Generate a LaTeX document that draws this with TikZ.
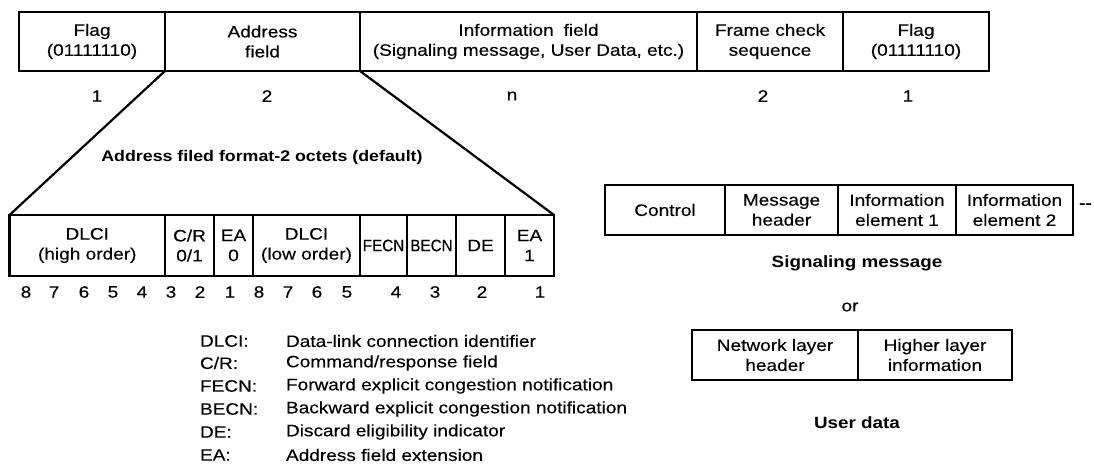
\documentclass[tikz,border=0pt]{standalone}
\usepackage{graphicx}
\usepackage{fontspec}
\setmainfont{Liberation Sans}[FakeStretch=1.155, FakeBold=0.3, BoldFeatures={FakeBold=0}]
\begin{document}
\begin{tikzpicture}[x=1pt,y=-1pt,
  cell/.style={draw, line width=2.2pt, inner sep=0pt, outer sep=0pt, align=center,
               font=\fontsize{16.5}{20}\selectfont},
  txt/.style={inner sep=0pt, outer sep=0pt, font=\fontsize{16.5}{20}\selectfont},
  head/.style={inner sep=0pt, outer sep=0pt, font=\bfseries\fontsize{16.3}{20}\selectfont},
  link/.style={line width=2.2pt}]
\useasboundingbox (0,0) rectangle (1094,463);

% ---- frame layout ----
\node[cell, minimum width=146, minimum height=59] (flagA) at (92,41.5) {Flag\\(01111110)};
\node[cell, minimum width=195, minimum height=59] (addr)  at (262.5,41.5) {Address\\field};
\node[cell, minimum width=337, minimum height=59] (info)  at (528.5,41.5) {Information\hspace{0.6em}field\\(Signaling message, User Data, etc.)};
\node[cell, minimum width=146, minimum height=59] (fcs)   at (770,41.5) {Frame check\\sequence};
\node[cell, minimum width=146, minimum height=59] (flagB) at (916,41.5) {Flag\\(01111110)};

% octet counts
\node[txt] (nA) at (97,96)  {1};
\node[txt] (nB) at (267,96) {2};
\node[txt] (nC) at (512,96) {n};
\node[txt] (nD) at (763,96) {2};
\node[txt] (nE) at (908,96) {1};

\node[head, font=\bfseries\fontsize{15.4}{19}\selectfont] (fmt) at (262,158) {Address filed format-2 octets (default)};

% ---- address field, two octets ----
\node[cell, minimum width=155.5, minimum height=61] (hi)   at (87.25,245.5) {DLCI\\(high order)};
\node[cell, minimum width=49,    minimum height=61] (cr)   at (189.5,245.5) {C/R\\0/1};
\node[cell, minimum width=39,    minimum height=61] (eaA)  at (233.5,245.5) {EA\\0};
\node[cell, minimum width=107,   minimum height=61] (lo)   at (306.5,245.5) {DLCI\\(low order)};
\node[cell, minimum width=47,    minimum height=61] (fecn) at (383.5,245.5) {\scalebox{0.8}[1]{FECN}};
\node[cell, minimum width=49,    minimum height=61] (becn) at (431.5,245.5) {\scalebox{0.8}[1]{BECN}};
\node[cell, minimum width=49,    minimum height=61] (de)   at (480.5,245.5) {DE};
\node[cell, minimum width=49,    minimum height=61] (eaB)  at (529.5,245.5) {EA\\1};

\draw[link] (addr.south west) -- (hi.north west);
\draw[link] (addr.south east) -- (eaB.north east);

% bit positions
\foreach \x/\b [count=\i] in {26/8,54/7,84/6,113/5,142/4,171/3,200/2,230/1,
                              259/8,288/7,317/6,347/5,396/4,435/3,482/2,540/1}
  \node[txt] (bit\i) at (\x,292) {\b};

% ---- legend ----
\foreach \y/\k/\d [count=\i] in {
    341/DLCI:/Data-link connection identifier,
    363/C{/}R:/Command{/}response field,
    386/FECN:/Forward explicit congestion notification,
    409/BECN:/Backward explicit congestion notification,
    432/DE:/Discard eligibility indicator,
    455/EA:/Address field extension} {
  \node[txt, anchor=west] (key\i) at (200,\y) {\k};
  \node[txt, anchor=west] (desc\i) at (286,\y) {\d};
}

% ---- signaling message ----
\node[cell, minimum width=120, minimum height=50] (ctl) at (665,210)    {Control};
\node[cell, minimum width=113, minimum height=50] (mh)  at (781.5,210)  {Message\\header};
\node[cell, minimum width=118, minimum height=50] (ieA) at (897,210)    {Information\\element 1};
\node[cell, minimum width=117, minimum height=50] (ieB) at (1014.5,210) {Information\\element 2};
\node[txt, anchor=west] (more) at (1079,206) {{-}{-}};
\node[head] (sig) at (857,263) {Signaling message};

\node[txt] (or) at (850,307) {or};

% ---- user data ----
\node[cell, minimum width=166, minimum height=50] (nl) at (775,355) {Network layer\\header};
\node[cell, minimum width=154, minimum height=50] (hl) at (935,355) {Higher layer\\information};
\node[head] (ud) at (857,423) {User data};
\end{tikzpicture}
\end{document}
